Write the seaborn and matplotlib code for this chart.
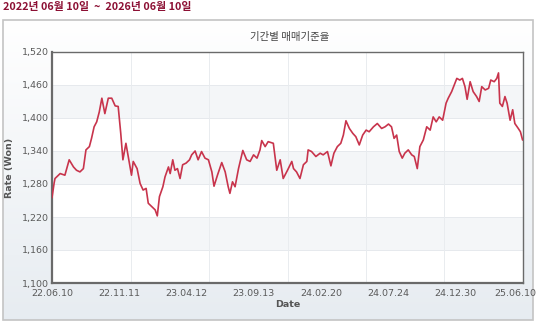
import numpy as np
import pandas as pd
import matplotlib
matplotlib.use("Agg")
import matplotlib.pyplot as plt
import seaborn as sns
from matplotlib.patches import Rectangle
from matplotlib.transforms import ScaledTranslation

# ---- data (day offset from 2022-06-10, KRW rate) ----
days = [0, 5, 7, 19, 30, 40, 50, 57, 65, 73, 79, 87, 92, 98, 104, 110, 116, 123, 131, 139,
        147, 154, 160, 165, 172, 178, 185, 189, 198, 205, 212, 219, 224, 232, 240, 245, 250,
        258, 263, 271, 275, 281, 286, 292, 298, 304, 312, 320, 325, 333, 340, 348, 356, 364,
        372, 377, 385, 395, 403, 410, 414, 420, 426, 434, 444, 453, 461, 469, 477, 484, 488,
        496, 503, 515, 523, 531, 538, 548, 558, 562, 569, 577, 585, 593, 596, 604, 614, 624,
        631, 641, 649, 656, 664, 672, 678, 684, 692, 700, 707, 715, 723, 731, 738, 748, 757,
        767, 775, 783, 790, 796, 802, 808, 815, 821, 829, 837, 843, 850, 856, 864, 872, 880,
        887, 894, 901, 909, 917, 922, 930, 942, 949, 955, 961, 966, 973, 980, 988, 994, 1000,
        1008, 1016, 1021, 1029, 1035, 1039, 1042, 1048, 1054, 1059, 1066, 1072, 1077, 1085,
        1090, 1095]
rate = [1255, 1282, 1290, 1299, 1296, 1324, 1311, 1305, 1302, 1308, 1342, 1348, 1363, 1384,
        1393, 1411, 1436, 1408, 1436, 1436, 1422, 1421, 1372, 1324, 1354, 1327, 1296, 1321,
        1308, 1281, 1269, 1272, 1245, 1239, 1233, 1222, 1257, 1275, 1293, 1311, 1299, 1324,
        1305, 1308, 1290, 1315, 1318, 1324, 1333, 1340, 1324, 1339, 1327, 1324, 1302, 1276,
        1296, 1319, 1302, 1275, 1263, 1284, 1275, 1308, 1341, 1324, 1321, 1333, 1327, 1342,
        1359, 1348, 1357, 1354, 1305, 1324, 1290, 1305, 1321, 1308, 1302, 1290, 1315, 1321,
        1342, 1339, 1330, 1336, 1333, 1339, 1313, 1336, 1348, 1354, 1369, 1395, 1381, 1372,
        1366, 1351, 1369, 1378, 1375, 1384, 1390, 1381, 1384, 1389, 1384, 1363, 1369, 1339,
        1327, 1336, 1342, 1333, 1330, 1308, 1348, 1360, 1384, 1378, 1402, 1393, 1402, 1396,
        1427, 1436, 1448, 1472, 1469, 1472, 1457, 1434, 1466, 1448, 1439, 1430, 1457, 1451,
        1454, 1469, 1466, 1472, 1482, 1427, 1421, 1439, 1427, 1396, 1415, 1390, 1381, 1375,
        1360]
x_labels = ["22.06.10", "22.11.11", "23.04.12", "23.09.13", "24.02.20", "24.07.24",
            "24.12.30", "25.06.10"]
y_ticks = [1100, 1160, 1220, 1280, 1340, 1400, 1460, 1520]
title = "기간별 매매기준율"
header = "2022년 06월 10일  ~  2026년 06월 10일"
total_days = 1096

df = pd.DataFrame({"day": days, "rate": rate})

sns.set_style("white")
plt.rcParams["font.family"] = ["DejaVu Sans", "Noto Sans CJK KR"]

W, H = 539, 332
fig = plt.figure(figsize=(W / 100, H / 100), dpi=100)

# background panel with vertical gradient
bg = fig.add_axes([3 / W, 1 - 320 / H, 530 / W, 300 / H], zorder=0)
grad = np.linspace(0, 1, 256).reshape(-1, 1)
top_c = np.array([1.0, 1.0, 1.0])
bot_c = np.array([0.905, 0.925, 0.945])
img = top_c[None, None, :] * (1 - grad[:, :, None]) + bot_c[None, None, :] * grad[:, :, None]
bg.imshow(img, aspect="auto", extent=[0, 1, 0, 1], origin="upper")
bg.set_xlim(0, 1)
bg.set_ylim(0, 1)
bg.axis("off")
bg.add_patch(Rectangle((0, 0), 1, 1, transform=bg.transAxes, fill=False,
                       edgecolor="#c4c4c4", linewidth=1.2, clip_on=False))

ax = fig.add_axes([52 / W, 1 - 283 / H, 471 / W, 231 / H], zorder=1)
ax.set_facecolor("white")

# alternating bands
for lo in [1160, 1280, 1400]:
    ax.axhspan(lo, lo + 60, color="#f4f6f8", zorder=0, lw=0)
for yv in y_ticks[1:-1]:
    ax.axhline(yv, color="#e6e9ed", lw=0.7, zorder=0.5)
for xv in np.linspace(0, total_days, 7)[1:-1]:
    ax.axvline(xv, color="#e9ecef", lw=0.7, zorder=0.5)

sns.lineplot(data=df, x="day", y="rate", ax=ax, color="#c8344c", linewidth=1.2, zorder=3)

ax.set_xlim(0, total_days)
ax.set_ylim(1100, 1520)
ax.set_yticks(y_ticks)
ax.set_yticklabels([f"{v:,}" for v in y_ticks])
ax.set_xticks(np.linspace(0, total_days, 8))
ax.set_xticklabels(x_labels)
ax.tick_params(axis="both", length=0, labelsize=6.8, labelcolor="#5a5a5a")
ax.tick_params(axis="y", pad=2)
ax.tick_params(axis="x", pad=4)
ax.set_xlabel("Date", fontsize=6.8, fontweight="bold", color="#555555", labelpad=2)
ax.set_ylabel("Rate (Won)", fontsize=6.8, fontweight="bold", color="#555555", labelpad=6)

for side, sp in ax.spines.items():
    sp.set_visible(True)
    sp.set_color("#6a6a6a")
    sp.set_linewidth(1.6 if side in ("left", "bottom") else 1.0)

# keep the last date label inside the figure panel
last = ax.xaxis.get_major_ticks()[-1].label1
last.set_transform(last.get_transform() + ScaledTranslation(-8 / 100, 0, fig.dpi_scale_trans))

fig.text(290 / W, 1 - 37 / H, title, ha="center", va="center", fontsize=7.5,
         color="#444444", family=["Noto Sans CJK KR", "DejaVu Sans"])
fig.text(3 / W, 1 - 7 / H, header, ha="left", va="center", fontsize=7.8,
         fontweight="bold", color="#8c1034", family=["Noto Sans CJK KR", "DejaVu Sans"])

fig.savefig("out.png", dpi=100)
